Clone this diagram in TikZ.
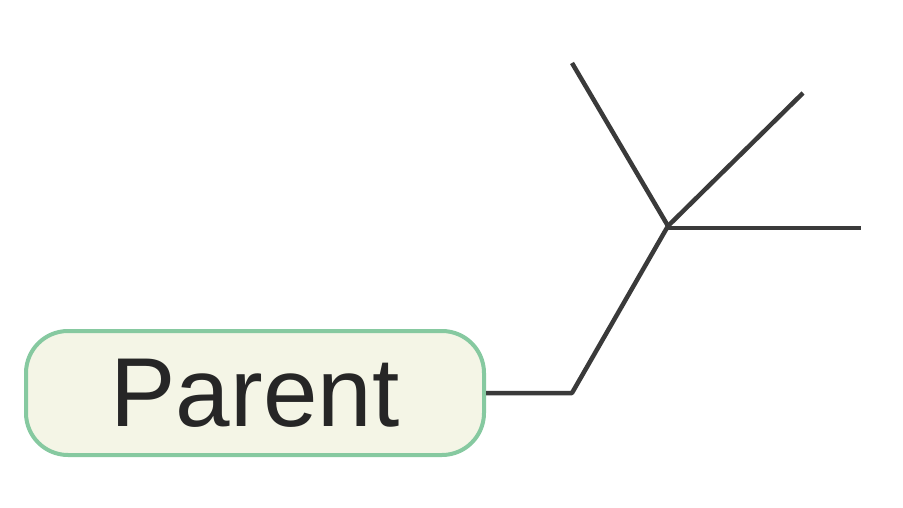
\documentclass[tikz,border=0pt]{standalone}
\usepackage{fontspec}
\setmainfont{Liberation Sans}
\definecolor{nodefill}{HTML}{F4F5E6}
\definecolor{nodeline}{HTML}{86C9A0}
\definecolor{linkcol}{HTML}{3A3A3A}
\begin{document}
\begin{tikzpicture}[x=1pt,y=1pt,
  parentbox/.style={draw=nodeline,fill=nodefill,line width=4pt,rounded corners=42pt,
    minimum width=458pt,minimum height=124pt,inner sep=0pt,
    font=\fontsize{98}{110}\selectfont,text=black!85},
  link/.style={draw=linkcol,line width=4.5pt}]
\useasboundingbox (0,0) rectangle (903,507);
\node[parentbox] (parent) at (255,114) {Parent};
\coordinate (bend) at (572,114);
\coordinate (hub) at (668,281);
\coordinate (c1) at (572,444);
\coordinate (c2) at (803,414);
\coordinate (c3) at (861,279);
\draw[link,line join=round] (parent.east) -- (bend) -- (hub);
\draw[link,line cap=butt] (hub) -- (c1);
\draw[link] (hub) -- (c2);
\draw[link] (hub.center) ++(0,-2) -- (c3);
\end{tikzpicture}
\end{document}
